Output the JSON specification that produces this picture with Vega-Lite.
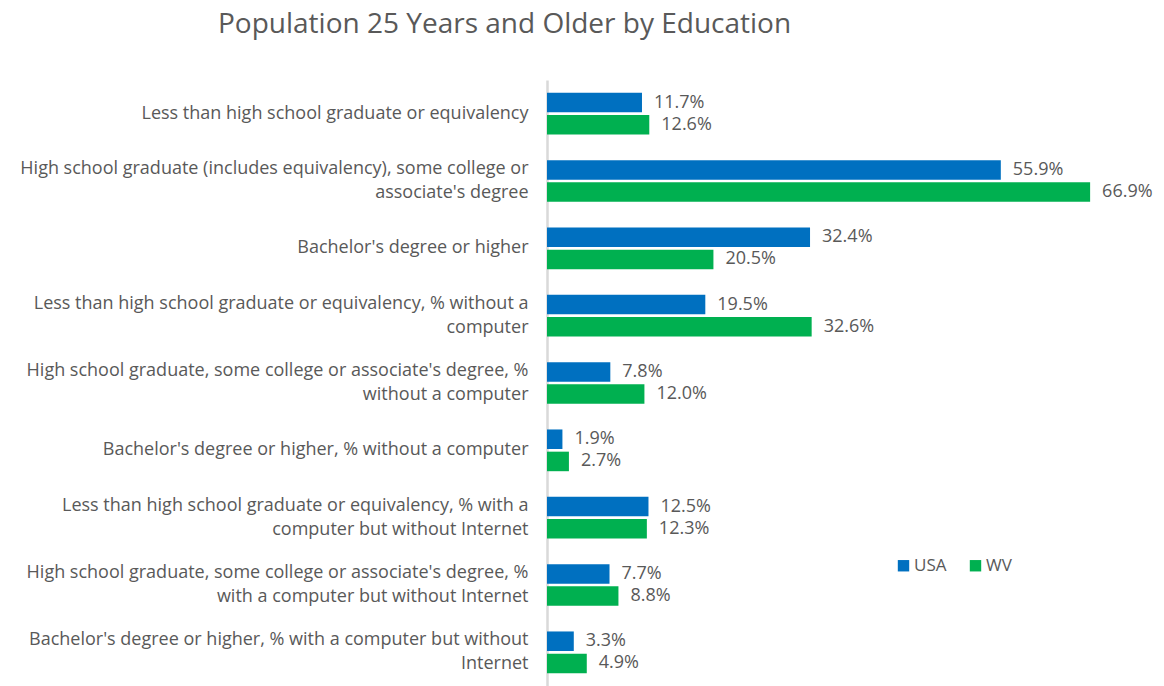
{
  "$schema": "https://vega.github.io/schema/vega-lite/v6.json",
  "autosize": "none",
  "width": 617,
  "height": 606,
  "padding": {"left": 547, "top": 80, "right": 0, "bottom": 0},
  "background": "white",
  "title": {
    "text": "Population 25 Years and Older by Education",
    "anchor": "start",
    "frame": "group",
    "dx": -329,
    "offset": 41,
    "font": "Open Sans",
    "fontSize": 28,
    "fontWeight": "normal",
    "color": "#595959"
  },
  "data": {
    "values": [
      {"category": "Less than high school graduate or equivalency", "series": "USA", "value": 11.7},
      {"category": "Less than high school graduate or equivalency", "series": "WV", "value": 12.6},
      {"category": "High school graduate (includes equivalency), some college or|associate's degree", "series": "USA", "value": 55.9},
      {"category": "High school graduate (includes equivalency), some college or|associate's degree", "series": "WV", "value": 66.9},
      {"category": "Bachelor's degree or higher", "series": "USA", "value": 32.4},
      {"category": "Bachelor's degree or higher", "series": "WV", "value": 20.5},
      {"category": "Less than high school graduate or equivalency, % without a|computer", "series": "USA", "value": 19.5},
      {"category": "Less than high school graduate or equivalency, % without a|computer", "series": "WV", "value": 32.6},
      {"category": "High school graduate, some college or associate's degree, %|without a computer", "series": "USA", "value": 7.8},
      {"category": "High school graduate, some college or associate's degree, %|without a computer", "series": "WV", "value": 12.0},
      {"category": "Bachelor's degree or higher, % without a computer", "series": "USA", "value": 1.9},
      {"category": "Bachelor's degree or higher, % without a computer", "series": "WV", "value": 2.7},
      {"category": "Less than high school graduate or equivalency, % with a|computer but without Internet", "series": "USA", "value": 12.5},
      {"category": "Less than high school graduate or equivalency, % with a|computer but without Internet", "series": "WV", "value": 12.3},
      {"category": "High school graduate, some college or associate's degree, %|with a computer but without Internet", "series": "USA", "value": 7.7},
      {"category": "High school graduate, some college or associate's degree, %|with a computer but without Internet", "series": "WV", "value": 8.8},
      {"category": "Bachelor's degree or higher, % with a computer but without|Internet", "series": "USA", "value": 3.3},
      {"category": "Bachelor's degree or higher, % with a computer but without|Internet", "series": "WV", "value": 4.9}
    ]
  },
  "transform": [
    {"calculate": "format(datum.value, '.1f') + '%'", "as": "label"}
  ],
  "encoding": {
    "y": {
      "field": "category",
      "type": "nominal",
      "sort": null,
      "scale": {"paddingInner": 0.38, "paddingOuter": 0.19},
      "axis": {
        "title": null,
        "ticks": false,
        "domainColor": "#d9d9d9",
        "domainWidth": 2.5,
        "labelExpr": "split(datum.label, '|')",
        "labelFont": "Open Sans",
        "labelFontSize": 18,
        "labelColor": "#595959",
        "labelPadding": 19,
        "labelLimit": 600,
        "labelLineHeight": 24,
        "labelOffset": {"condition": {"test": "indexof(datum.value, '|') >= 0", "value": -12}, "value": 0}
      }
    },
    "yOffset": {"field": "series", "type": "nominal", "scale": {"paddingInner": 0.12}},
    "x": {
      "field": "value",
      "type": "quantitative",
      "scale": {"domain": [0, 76], "nice": false},
      "axis": null
    }
  },
  "layer": [
    {
      "mark": {"type": "bar"},
      "encoding": {
        "color": {
          "field": "series",
          "type": "nominal",
          "scale": {"domain": ["USA", "WV"], "range": ["#0070C0", "#00B050"]},
          "legend": {
            "title": null,
            "orient": "none",
            "direction": "horizontal",
            "legendX": 348,
            "legendY": 477,
            "symbolType": "square",
            "symbolSize": 130,
            "symbolStrokeWidth": 0,
            "labelFont": "Open Sans",
            "labelFontSize": 17,
            "labelColor": "#595959",
            "labelOffset": 2,
            "columnPadding": 20
          }
        }
      }
    },
    {
      "mark": {
        "type": "text",
        "align": "left",
        "baseline": "middle",
        "dx": 12,
        "font": "Open Sans",
        "fontSize": 18,
        "color": "#595959"
      },
      "encoding": {
        "text": {"field": "label", "type": "nominal"},
        "detail": {"field": "series"}
      }
    }
  ],
  "config": {"view": {"stroke": null}}
}
